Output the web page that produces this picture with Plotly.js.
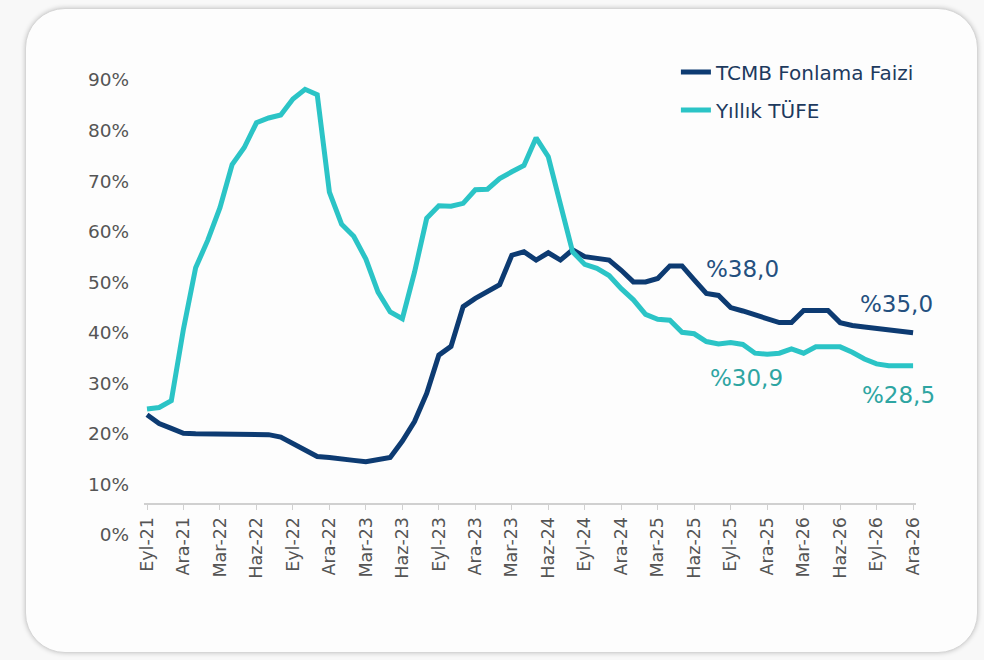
<!DOCTYPE html>
<html>
<head>
<meta charset="utf-8">
<script src="https://cdn.plot.ly/plotly-3.0.1.min.js"></script>
<style>
  html, body { margin: 0; padding: 0; background: #f8f8f8; }
  #kart {
    position: absolute; left: 25px; top: 8px; width: 951px; height: 643px;
    background: #fdfdfd; border: 1px solid #d6d6d6; border-radius: 40px;
    box-shadow: 0 0 5px rgba(0,0,0,0.22);
  }
  #grafik { position: absolute; left: 0; top: 0; width: 984px; height: 660px; }
</style>
</head>
<body>
<div id="kart"></div>
<div id="grafik"></div>
<script>
// --- Veriler: aylık, Eyl-21 .. Ara-26 ---
const aylar = [
  'Eyl-21','Eki-21','Kas-21','Ara-21',
  'Oca-22','Şub-22','Mar-22','Nis-22','May-22','Haz-22','Tem-22','Ağu-22','Eyl-22','Eki-22','Kas-22','Ara-22',
  'Oca-23','Şub-23','Mar-23','Nis-23','May-23','Haz-23','Tem-23','Ağu-23','Eyl-23','Eki-23','Kas-23','Ara-23',
  'Oca-24','Şub-24','Mar-24','Nis-24','May-24','Haz-24','Tem-24','Ağu-24','Eyl-24','Eki-24','Kas-24','Ara-24',
  'Oca-25','Şub-25','Mar-25','Nis-25','May-25','Haz-25','Tem-25','Ağu-25','Eyl-25','Eki-25','Kas-25','Ara-25',
  'Oca-26','Şub-26','Mar-26','Nis-26','May-26','Haz-26','Tem-26','Ağu-26','Eyl-26','Eki-26','Kas-26','Ara-26'
];

const tcmbFonlama = [
  18.4, 16.6, 15.6, 14.6,
  14.5, 14.5, 14.5, 14.5, 14.5, 14.5, 14.3, 13.8, 12.5, 11.0, 9.8, 9.6,
  9.4, 9.0, 8.7, 9.1, 9.6, 13.0, 17.0, 22.8, 30.7, 32.5, 40.7, 42.4,
  43.8, 45.2, 51.3, 52.0, 50.3, 51.8, 50.3, 52.4, 51.0, 50.6, 50.3, 48.2,
  45.8, 45.8, 46.5, 49.1, 49.1, 46.2, 43.4, 43.0, 40.5, 39.8, 39.0, 38.0,
  37.4, 37.4, 39.9, 39.9, 39.9, 37.4, 36.8, 36.5, 36.2, 35.9, 35.6, 35.3
];

const yillikTufe = [
  19.6, 19.9, 21.3, 36.1,
  48.7, 54.4, 61.1, 70.0, 73.5, 78.6, 79.6, 80.2, 83.5, 85.5, 84.4, 64.3,
  57.7, 55.2, 50.5, 43.7, 39.6, 38.2, 47.8, 58.9, 61.5, 61.4, 62.0, 64.8,
  64.9, 67.1, 68.5, 69.8, 75.5, 71.6, 61.8, 52.0, 49.4, 48.6, 47.1, 44.4,
  42.1, 39.1, 38.1, 37.9, 35.4, 35.1, 33.5, 33.0, 33.3, 32.9, 31.1, 30.9,
  31.1, 32.0, 31.1, 32.4, 32.4, 32.4, 31.3, 29.9, 28.9, 28.5, 28.5, 28.5
];

// eksen etiketleri (orijinaldeki gibi, ikinci "Mar-23" dahil)
const tickEtiketleri = ['Eyl-21','Ara-21','Mar-22','Haz-22','Eyl-22','Ara-22','Mar-23','Haz-23','Eyl-23','Ara-23',
  'Mar-23','Haz-24','Eyl-24','Ara-24','Mar-25','Haz-25','Eyl-25','Ara-25','Mar-26','Haz-26','Eyl-26','Ara-26'];
const yuzdeDegerleri = [0, 10, 20, 30, 40, 50, 60, 70, 80, 90];

const tickAylar = aylar.filter((a, i) => i % 3 === 0);

const LACIVERT = '#0d3b72';
const TURKUAZ = '#2bc4c6';
const FONT = 'DejaVu Sans, Verdana, sans-serif';

const traces = [
  {
    x: aylar, y: tcmbFonlama, name: 'TCMB Fonlama Faizi', type: 'scatter', mode: 'lines',
    line: { color: LACIVERT, width: 5 }, legendgroup: 'a', hoverinfo: 'skip'
  },
  {
    x: aylar, y: yillikTufe, name: 'Yıllık TÜFE', type: 'scatter', mode: 'lines',
    line: { color: TURKUAZ, width: 5 }, legendgroup: 'b', hoverinfo: 'skip'
  },
  // sadece sol etiket ekseni için
  { x: [aylar[0]], y: [null], yaxis: 'y2', showlegend: false, hoverinfo: 'skip', mode: 'lines' }
];

const layout = {
  width: 984, height: 660,
  margin: { l: 144, r: 68, t: 50, b: 115 },
  paper_bgcolor: 'rgba(0,0,0,0)', plot_bgcolor: 'rgba(0,0,0,0)',
  font: { family: FONT, color: '#555' },
  showlegend: true,
  legend: {
    x: 0.689, y: 0.995, xanchor: 'left', yanchor: 'top',
    traceorder: 'grouped', tracegroupgap: 9,
    font: { family: FONT, size: 20, color: '#1d3a5e' },
    bgcolor: 'rgba(0,0,0,0)'
  },
  xaxis: {
    type: 'category', range: [-0.247, 63.24],
    anchor: 'free', position: 0.0828,
    tickmode: 'array', tickvals: tickAylar, ticktext: tickEtiketleri,
    tickangle: -90, tickfont: { family: FONT, size: 17.5, color: '#555' },
    ticks: 'outside', ticklen: 5, tickcolor: '#d0d0d0', tickwidth: 1,
    showline: true, linecolor: '#d0d0d0', linewidth: 2,
    showgrid: false, zeroline: false
  },
  yaxis: {
    range: [-8.45, 93.61], showticklabels: false, showgrid: false,
    zeroline: false, showline: false, ticks: ''
  },
  yaxis2: {
    overlaying: 'y', side: 'left', range: [-1.98, 95.93],
    tickmode: 'array', tickvals: yuzdeDegerleri, ticktext: yuzdeDegerleri.map(v => v + '%'),
    tickfont: { family: FONT, size: 18.5, color: '#555' },
    ticks: '', ticklabelstandoff: 14,
    showgrid: false, zeroline: false, showline: false
  },
  annotations: [
    { x: 49, y: 48.5, xref: 'x', yref: 'y', text: '%38,0', showarrow: false,
      font: { family: FONT, size: 23, color: '#24507f' } },
    { x: 61.6, y: 41.3, xref: 'x', yref: 'y', text: '%35,0', showarrow: false,
      font: { family: FONT, size: 23, color: '#24507f' } },
    { x: 49.3, y: 25.9, xref: 'x', yref: 'y', text: '%30,9', showarrow: false,
      font: { family: FONT, size: 23, color: '#2ea5a2' } },
    { x: 61.8, y: 22.4, xref: 'x', yref: 'y', text: '%28,5', showarrow: false,
      font: { family: FONT, size: 23, color: '#2ea5a2' } }
  ]
};

Plotly.newPlot('grafik', traces, layout, { displayModeBar: false, staticPlot: true });
</script>
</body>
</html>
